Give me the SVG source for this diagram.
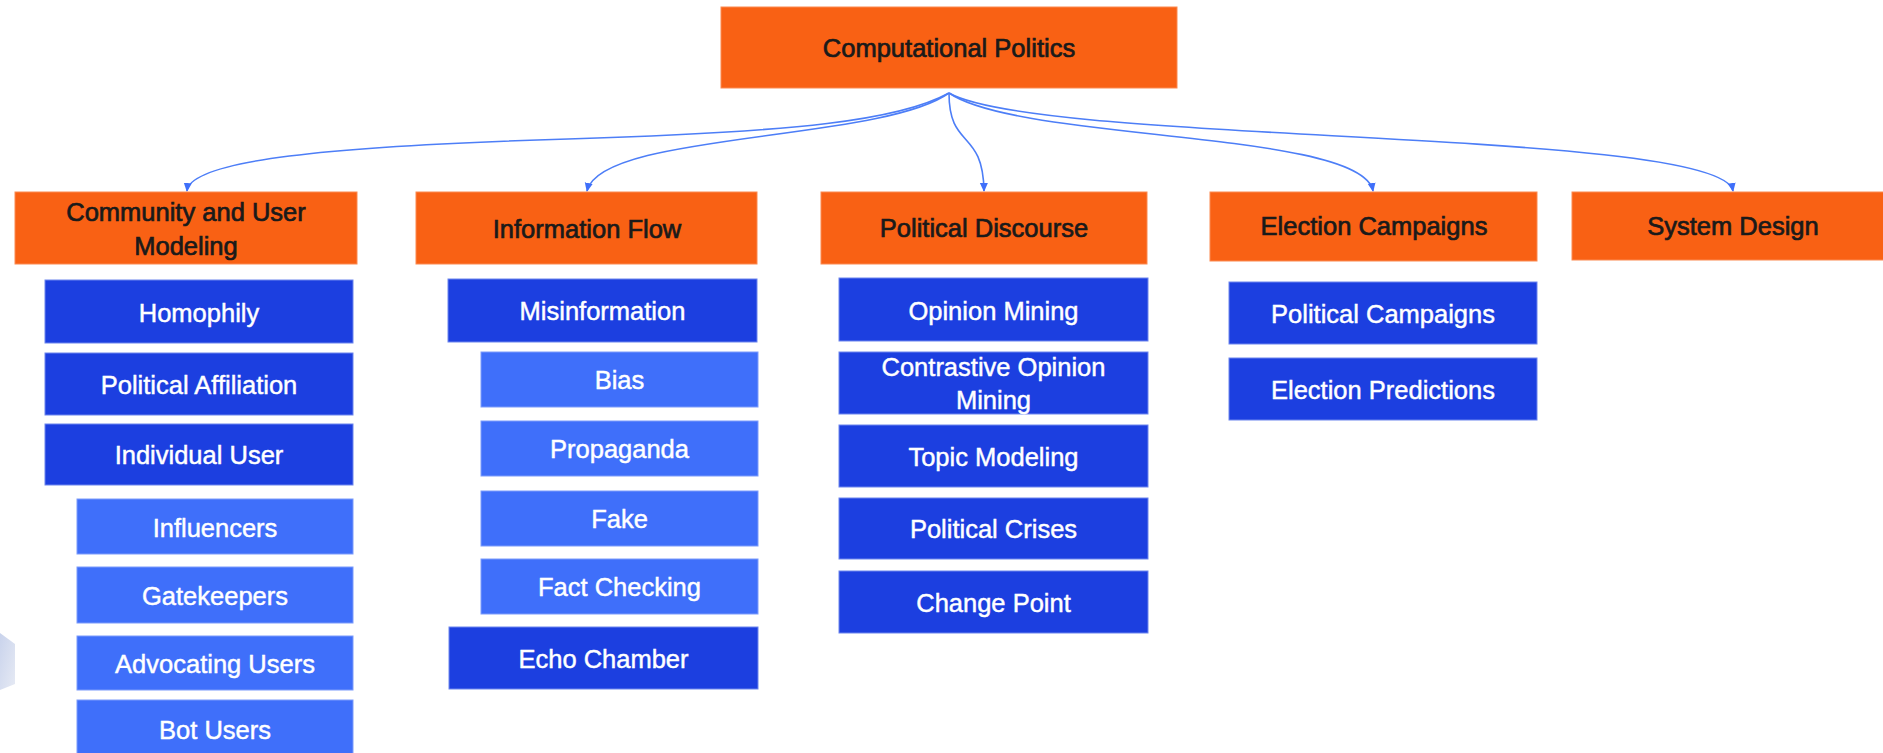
<svg xmlns="http://www.w3.org/2000/svg" width="1883" height="753" viewBox="0 0 1883 753">
<defs>
<style>
.o{fill:#F96114;stroke:#FB8A50;stroke-width:1}
.d{fill:#1C3FE0;stroke:#6C86EE;stroke-width:1}
.l{fill:#3F6FFA;stroke:#7C9CFB;stroke-width:1}
text{font-family:"Liberation Sans",Arial,sans-serif;font-size:25.5px;text-anchor:middle}
.tk{fill:#1A1A1A;stroke:#1A1A1A;stroke-width:0.7}
.tw{fill:#FFFFFF;stroke:#FFFFFF;stroke-width:0.45}
.c{fill:none;stroke:#4D7EF7;stroke-width:1.6}
</style>
<marker id="ah" markerWidth="10" markerHeight="10" refX="8" refY="5" orient="auto" markerUnits="userSpaceOnUse">
<path d="M0,1 L9,5 L0,9 Z" fill="#3F6FFA"/>
</marker>
<linearGradient id="gshape" x1="0" y1="0" x2="1" y2="1">
<stop offset="0" stop-color="#C9D3EC"/>
<stop offset="1" stop-color="#E6EAF4"/>
</linearGradient>
</defs>
<rect width="1883" height="753" fill="#FFFFFF"/>
<polygon points="0,633 15,644 15,684 0,690" fill="url(#gshape)"/>

<g id="connectors">
<path class="c" d="M949,93 C900,120 800,132 568,139 C330,146 190,160 187,191" marker-end="url(#ah)"/>
<path class="c" d="M949,93 C880,142 600,132 587,191" marker-end="url(#ah)"/>
<path class="c" d="M949,93 C949,150 983,128 984,191" marker-end="url(#ah)"/>
<path class="c" d="M949,93 C1020,142 1362,130 1373,191" marker-end="url(#ah)"/>
<path class="c" d="M949,93 C1040,145 1722,128 1733,191" marker-end="url(#ah)"/>
</g>

<g id="computational-politics"><rect class="o" x="721" y="7" width="456" height="81"/><text class="tk" x="949" y="57">Computational Politics</text></g>

<g id="community-user-modeling"><rect class="o" x="15" y="192" width="342" height="72"/><text class="tk" x="186" y="221">Community and User</text><text class="tk" x="186" y="255">Modeling</text></g>
<g id="information-flow"><rect class="o" x="416" y="192" width="341" height="72"/><text class="tk" x="587" y="237.5">Information Flow</text></g>
<g id="political-discourse"><rect class="o" x="821" y="192" width="326" height="72"/><text class="tk" x="984" y="237">Political Discourse</text></g>
<g id="election-campaigns"><rect class="o" x="1210" y="192" width="327" height="69"/><text class="tk" x="1374" y="235">Election Campaigns</text></g>
<g id="system-design"><rect class="o" x="1572" y="192" width="322" height="68"/><text class="tk" x="1733" y="235">System Design</text></g>

<g id="homophily"><rect class="d" x="45" y="280" width="308" height="63"/><text class="tw" x="199" y="321.5">Homophily</text></g>
<g id="political-affiliation"><rect class="d" x="45" y="353" width="308" height="62"/><text class="tw" x="199" y="394">Political Affiliation</text></g>
<g id="individual-user"><rect class="d" x="45" y="424" width="308" height="61"/><text class="tw" x="199" y="464">Individual User</text></g>
<g id="influencers"><rect class="l" x="77" y="499" width="276" height="55"/><text class="tw" x="215" y="536.5">Influencers</text></g>
<g id="gatekeepers"><rect class="l" x="77" y="567" width="276" height="56"/><text class="tw" x="215" y="604.5">Gatekeepers</text></g>
<g id="advocating-users"><rect class="l" x="77" y="636" width="276" height="54"/><text class="tw" x="215" y="672.5">Advocating Users</text></g>
<g id="bot-users"><rect class="l" x="77" y="700" width="276" height="60"/><text class="tw" x="215" y="739">Bot Users</text></g>

<g id="misinformation"><rect class="d" x="448" y="279" width="309" height="63"/><text class="tw" x="602.5" y="320">Misinformation</text></g>
<g id="bias"><rect class="l" x="481" y="352" width="277" height="55"/><text class="tw" x="619.5" y="389">Bias</text></g>
<g id="propaganda"><rect class="l" x="481" y="421" width="277" height="55"/><text class="tw" x="619.5" y="457.5">Propaganda</text></g>
<g id="fake"><rect class="l" x="481" y="491" width="277" height="55"/><text class="tw" x="619.5" y="528">Fake</text></g>
<g id="fact-checking"><rect class="l" x="481" y="559" width="277" height="55"/><text class="tw" x="619.5" y="596">Fact Checking</text></g>
<g id="echo-chamber"><rect class="d" x="449" y="627" width="309" height="62"/><text class="tw" x="603.5" y="667.5">Echo Chamber</text></g>

<g id="opinion-mining"><rect class="d" x="839" y="278" width="309" height="63"/><text class="tw" x="993.5" y="319.5">Opinion Mining</text></g>
<g id="contrastive-opinion-mining"><rect class="d" x="839" y="352" width="309" height="62"/><text class="tw" x="993.5" y="376">Contrastive Opinion</text><text class="tw" x="993.5" y="409">Mining</text></g>
<g id="topic-modeling"><rect class="d" x="839" y="425" width="309" height="62"/><text class="tw" x="993.5" y="466">Topic Modeling</text></g>
<g id="political-crises"><rect class="d" x="839" y="498" width="309" height="61"/><text class="tw" x="993.5" y="538">Political Crises</text></g>
<g id="change-point"><rect class="d" x="839" y="571" width="309" height="62"/><text class="tw" x="993.5" y="612">Change Point</text></g>

<g id="political-campaigns"><rect class="d" x="1229" y="282" width="308" height="62"/><text class="tw" x="1383" y="323">Political Campaigns</text></g>
<g id="election-predictions"><rect class="d" x="1229" y="358" width="308" height="62"/><text class="tw" x="1383" y="399">Election Predictions</text></g>
</svg>
